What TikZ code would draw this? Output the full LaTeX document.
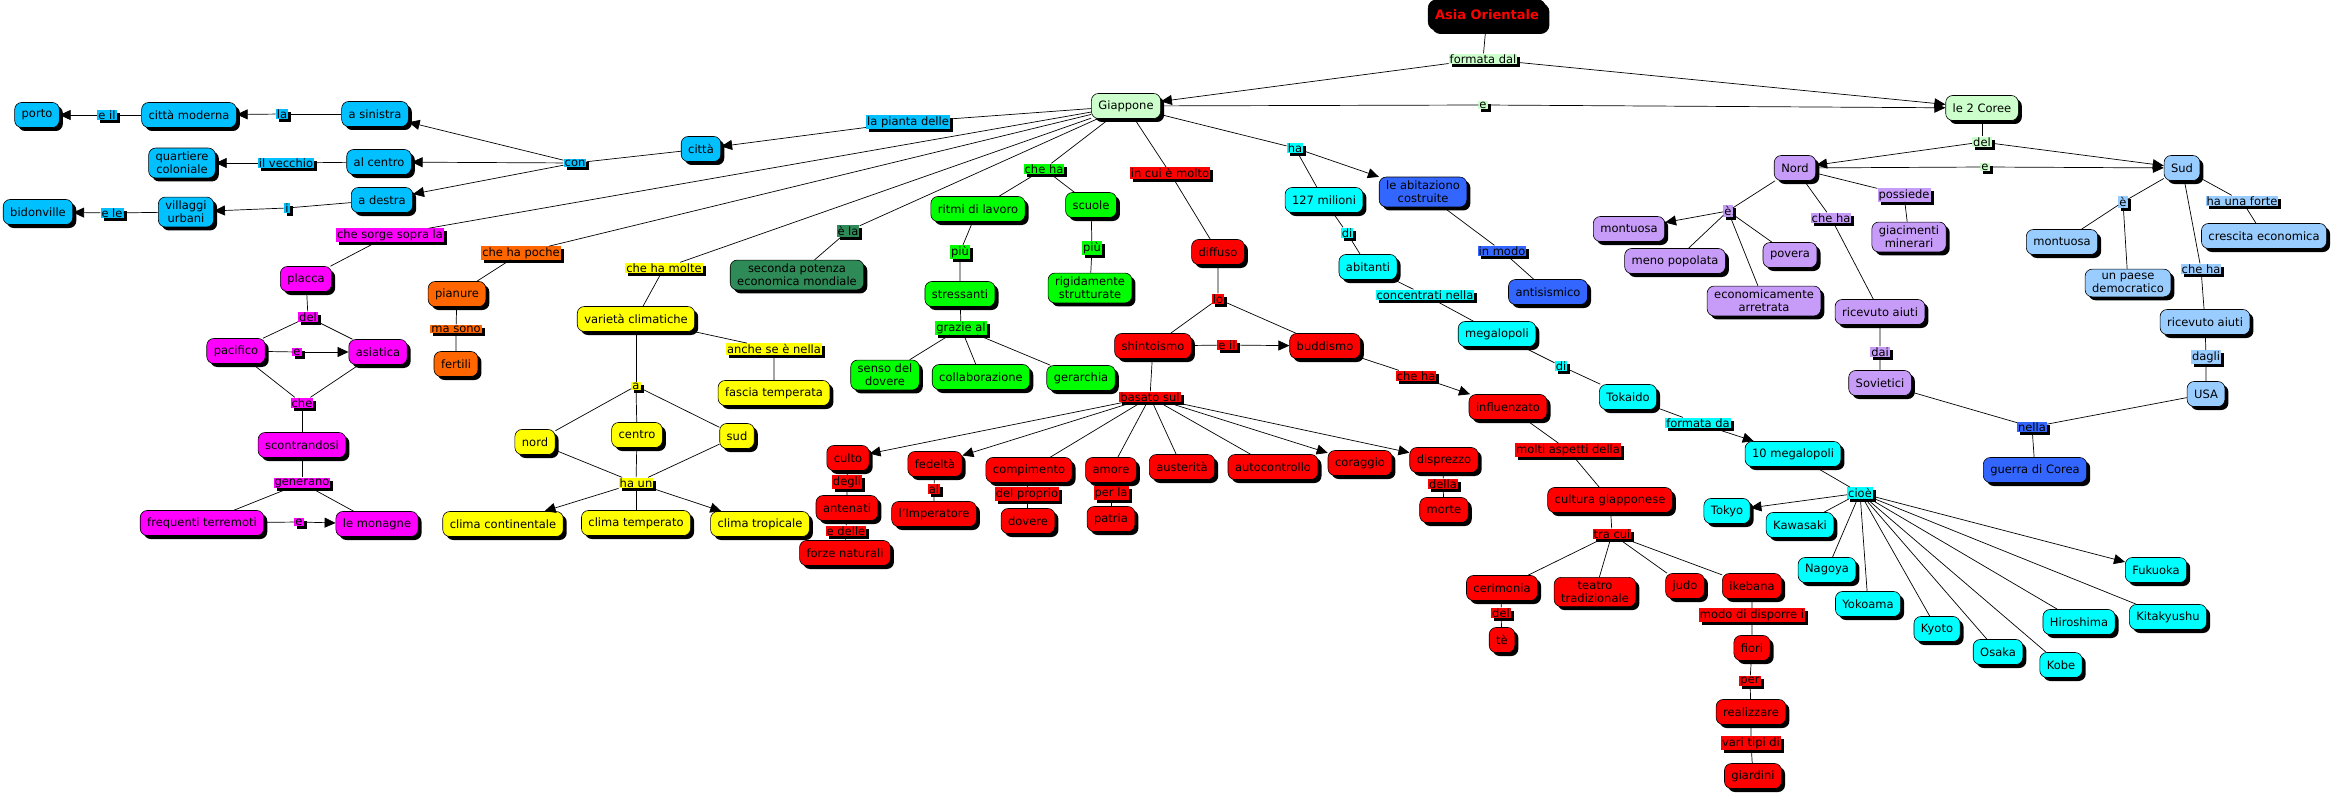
\documentclass[tikz,border=0pt]{standalone}
\usepackage{fontspec}
\setmainfont{DejaVu Sans}
\usetikzlibrary{arrows.meta,shadows}

\definecolor{verdino}{HTML}{CCFFCC}
\definecolor{celeste}{HTML}{00C0FF}
\definecolor{magenta}{HTML}{FF00FF}
\definecolor{arancio}{HTML}{FF6600}
\definecolor{giallo}{HTML}{FFFF00}
\definecolor{verdescuro}{HTML}{2E8B57}
\definecolor{verde}{HTML}{00FF00}
\definecolor{rosso}{HTML}{FF0000}
\definecolor{ciano}{HTML}{00FFFF}
\definecolor{blu}{HTML}{3366FF}
\definecolor{lilla}{HTML}{C79CF8}
\definecolor{azzurro}{HTML}{99CCFF}
\newcommand{\mapfont}{\fontsize{11.5}{13}\selectfont}

\begin{document}
\begin{tikzpicture}[x=1pt,y=-1pt,
  concept/.style={draw, fill=#1, rounded corners=7pt, line width=0.6pt, inner xsep=7pt, inner ysep=4pt,
    minimum height=25pt, align=center, font=\mapfont,
    drop shadow={shadow xshift=3.5pt,shadow yshift=-3.5pt,fill=black,opacity=1}},
  link/.style={fill=#1, inner sep=1pt, font=\mapfont,
    drop shadow={shadow xshift=3pt,shadow yshift=-3pt,fill=black,opacity=1}},
  conn/.style={line width=0.7pt},
  arr/.style={conn,-{Triangle[length=11pt,width=10pt]}}]
\useasboundingbox (0,0) rectangle (2335,797);

% radice
\node[concept=black, text=red, font=\fontsize{13}{15}\selectfont\bfseries, minimum height=31pt, rounded corners=9pt] (asia) at (1487,15) {Asia Orientale};
\node[link=verdino] (lfdal) at (1483,59) {formata dal};
\node[concept=verdino] (giap) at (1126,106) {Giappone};
\node[concept=verdino] (coree) at (1982,108) {le 2 Coree};
\node[link=verdino] (le1) at (1483,105) {e};

% Coree
\node[link=verdino] (ldel) at (1982,142) {del};
\node[link=verdino] (le2) at (1985,167) {e};
\node[concept=lilla] (nord) at (1795,168) {Nord};
\node[concept=azzurro] (sud) at (2182,168) {Sud};
\node[link=lilla] (lne) at (1728,211) {è};
\node[concept=lilla] (nmont) at (1629,229) {montuosa};
\node[concept=lilla] (nmeno) at (1675,261) {meno popolata};
\node[concept=lilla] (npov) at (1790,255) {povera};
\node[concept=lilla] (neco) at (1764,301) {economicamente\\arretrata};
\node[link=lilla] (lnche) at (1831,218) {che ha};
\node[concept=lilla] (naiuti) at (1880,312) {ricevuto aiuti};
\node[link=lilla] (lposs) at (1904,195) {possiede};
\node[concept=lilla] (ngiac) at (1909,237) {giacimenti\\minerari};
\node[link=lilla] (ldai) at (1880,352) {dai};
\node[concept=lilla] (sov) at (1880,383) {Sovietici};
\node[link=blu] (lnella) at (2032,427) {nella};
\node[concept=blu] (guerra) at (2035,470) {guerra di Corea};
\node[concept=azzurro] (usa) at (2206,394) {USA};
\node[link=azzurro] (ldagli) at (2206,357) {dagli};
\node[concept=azzurro] (saiuti) at (2205,322) {ricevuto aiuti};
\node[link=azzurro] (lsche) at (2201,269) {che ha};
\node[link=azzurro] (lse) at (2123,202) {è};
\node[concept=azzurro] (smont) at (2062,242) {montuosa};
\node[concept=azzurro] (sdemo) at (2128,283) {un paese\\democratico};
\node[link=azzurro] (lforte) at (2242,201) {ha una forte};
\node[concept=azzurro] (scresc) at (2264,236) {crescita economica};

% citta
\node[link=celeste] (lpianta) at (908,122) {la pianta delle};
\node[concept=celeste] (citta) at (701,149) {città};
\node[link=celeste] (lcon) at (575,163) {con};
\node[concept=celeste] (sin) at (375,114) {a sinistra};
\node[concept=celeste] (cen) at (379,162) {al centro};
\node[concept=celeste] (des) at (382,200) {a destra};
\node[link=celeste] (lla) at (282,114) {la};
\node[concept=celeste] (moderna) at (189,115) {città moderna};
\node[link=celeste] (leil) at (107,115) {e il};
\node[concept=celeste] (porto) at (37,115) {porto};
\node[link=celeste] (lvecchio) at (286,163) {il vecchio};
\node[concept=celeste] (quart) at (182,163) {quartiere\\coloniale};
\node[link=celeste] (li) at (287,208) {i};
\node[concept=celeste] (vill) at (186,212) {villaggi\\urbani};
\node[link=celeste] (lele) at (112,213) {e le};
\node[concept=celeste] (bidon) at (38,212) {bidonville};

% placche
\node[link=magenta] (lsorge) at (390,235) {che sorge sopra la};
\node[concept=magenta] (placca) at (306,279) {placca};
\node[link=magenta] (ldelp) at (308,317) {del};
\node[concept=magenta] (pacif) at (236,351) {pacifico};
\node[concept=magenta] (asiat) at (378,352) {asiatica};
\node[link=magenta] (lep) at (297,352) {e};
\node[link=magenta] (lchep) at (302,403) {che};
\node[concept=magenta] (scontr) at (302,445) {scontrandosi};
\node[link=magenta] (lgen) at (302,483) {generano};
\node[concept=magenta] (terrem) at (202,523) {frequenti terremoti};
\node[concept=magenta] (monagne) at (377,524) {le monagne};
\node[link=magenta] (lem) at (299,522) {e};

% pianure
\node[link=arancio] (lpoche) at (521,253) {che ha poche};
\node[concept=arancio] (pianure) at (457,294) {pianure};
\node[link=arancio] (lsono) at (456,329) {ma sono};
\node[concept=arancio] (fertili) at (456,364) {fertili};

% clima
\node[link=giallo] (lmolte) at (664,268) {che ha molte};
\node[concept=giallo] (varieta) at (636,319) {varietà climatiche};
\node[link=giallo] (lnella2) at (774,349) {anche se è nella};
\node[concept=giallo] (fascia) at (774,393) {fascia temperata};
\node[link=giallo] (la) at (636,386) {a};
\node[concept=giallo] (ynord) at (535,442) {nord};
\node[concept=giallo] (ycentro) at (637,435) {centro};
\node[concept=giallo] (ysud) at (737,436) {sud};
\node[link=giallo] (lhaun) at (636,483) {ha un};
\node[concept=giallo] (ccont) at (503,524) {clima continentale};
\node[concept=giallo] (ctemp) at (636,523) {clima temperato};
\node[concept=giallo] (ctrop) at (760,524) {clima tropicale};

% economia e lavoro
\node[link=verdescuro] (lela) at (848,231) {è la};
\node[concept=verdescuro] (potenza) at (797,275) {seconda potenza\\economica mondiale};
\node[link=verde] (lgha) at (1044,169) {che ha};
\node[concept=verde] (ritmi) at (978,209) {ritmi di lavoro};
\node[concept=verde] (scuole) at (1091,205) {scuole};
\node[link=verde] (lpiu1) at (960,252) {più};
\node[concept=verde] (stress) at (960,294) {stressanti};
\node[link=verde] (lpiu2) at (1092,248) {più};
\node[concept=verde] (rigid) at (1090,288) {rigidamente\\strutturate};
\node[link=verde] (lgrazie) at (961,328) {grazie al};
\node[concept=verde] (senso) at (885,375) {senso del\\dovere};
\node[concept=verde] (collab) at (981,377) {collaborazione};
\node[concept=verde] (gerarc) at (1081,378) {gerarchia};

% religione
\node[link=rosso] (lcui) at (1170,173) {in cui è molto};
\node[concept=rosso] (diffuso) at (1218,252) {diffuso};
\node[link=rosso] (llo) at (1218,299) {lo};
\node[concept=rosso] (shinto) at (1153,346) {shintoismo};
\node[link=rosso] (leil2) at (1227,345) {e il};
\node[concept=rosso] (budd) at (1325,346) {buddismo};
\node[link=rosso] (lbasato) at (1150,397) {basato sul};
\node[concept=rosso] (culto) at (848,458) {culto};
\node[link=rosso] (ldegli) at (847,482) {degli};
\node[concept=rosso] (antenati) at (847,508) {antenati};
\node[link=rosso] (ledelle) at (846,531) {e delle};
\node[concept=rosso] (forze) at (845,553) {forze naturali};
\node[concept=rosso] (fedelta) at (935,464) {fedeltà};
\node[link=rosso] (lal) at (934,489) {al};
\node[concept=rosso] (imper) at (934,514) {l'Imperatore};
\node[concept=rosso] (compim) at (1029,470) {compimento};
\node[link=rosso] (lproprio) at (1027,494) {del proprio};
\node[concept=rosso] (dovere) at (1028,521) {dovere};
\node[concept=rosso] (amore) at (1111,470) {amore};
\node[link=rosso] (lperla) at (1111,493) {per la};
\node[concept=rosso] (patria) at (1111,519) {patria};
\node[concept=rosso] (auster) at (1182,467) {austerità};
\node[concept=rosso] (autoc) at (1273,467) {autocontrollo};
\node[concept=rosso] (corag) at (1360,463) {coraggio};
\node[concept=rosso] (dispr) at (1444,460) {disprezzo};
\node[link=rosso] (ldella) at (1443,484) {della};
\node[concept=rosso] (morte) at (1444,510) {morte};
\node[link=rosso] (lrche) at (1416,376) {che ha};
\node[concept=rosso] (influ) at (1508,407) {influenzato};
\node[link=rosso] (lmolti) at (1568,450) {molti aspetti della};
\node[concept=rosso] (cultura) at (1610,500) {cultura giapponese};
\node[link=rosso] (ltra) at (1612,534) {tra cui};
\node[concept=rosso] (cerim) at (1502,588) {cerimonia};
\node[link=rosso] (ldelte) at (1501,613) {del};
\node[concept=rosso] (te) at (1502,640) {tè};
\node[concept=rosso] (teatro) at (1595,592) {teatro\\tradizionale};
\node[concept=rosso] (judo) at (1685,586) {judo};
\node[concept=rosso] (ikeb) at (1752,586) {ikebana};
\node[link=rosso] (lmodo) at (1752,615) {modo di disporre i};
\node[concept=rosso] (fiori) at (1752,648) {fiori};
\node[link=rosso] (lper) at (1750,681) {per};
\node[concept=rosso] (realiz) at (1751,712) {realizzare};
\node[link=rosso] (lvari) at (1751,743) {vari tipi di};
\node[concept=rosso] (giardini) at (1753,776) {giardini};

% popolazione
\node[link=ciano] (lha) at (1295,148) {ha};
\node[concept=ciano] (milioni) at (1324,200) {127 milioni};
\node[concept=blu] (abitaz) at (1423,192) {le abitaziono\\costruite};
\node[link=ciano] (ldi) at (1347,233) {di};
\node[concept=ciano] (abitanti) at (1368,267) {abitanti};
\node[link=ciano] (lconc) at (1425,295) {concentrati nella};
\node[concept=ciano] (megal) at (1497,334) {megalopoli};
\node[link=blu] (lmodo2) at (1502,251) {in modo};
\node[concept=blu] (antisis) at (1548,292) {antisismico};
\node[link=ciano] (ldi2) at (1561,366) {di};
\node[concept=ciano] (tokaido) at (1628,397) {Tokaido};
\node[link=ciano] (lform) at (1698,423) {formata da};
\node[concept=ciano] (dieci) at (1793,454) {10 megalopoli};
\node[link=ciano] (lcioe) at (1860,493) {cioè};
\node[concept=ciano] (tokyo) at (1727,511) {Tokyo};
\node[concept=ciano] (kawa) at (1800,525) {Kawasaki};
\node[concept=ciano] (nagoya) at (1827,570) {Nagoya};
\node[concept=ciano] (yoko) at (1868,604) {Yokoama};
\node[concept=ciano] (kyoto) at (1937,629) {Kyoto};
\node[concept=ciano] (osaka) at (1998,652) {Osaka};
\node[concept=ciano] (kobe) at (2061,665) {Kobe};
\node[concept=ciano] (hiro) at (2079,622) {Hiroshima};
\node[concept=ciano] (kita) at (2168,617) {Kitakyushu};
\node[concept=ciano] (fuku) at (2156,570) {Fukuoka};

% collegamenti
\draw[conn] (asia) -- (lfdal);
\draw[arr] (lfdal) -- (giap);
\draw[arr] (lfdal) -- (coree);
\draw[conn] (giap) -- (le1);
\draw[arr] (le1) -- (coree);

\draw[conn] (coree) -- (ldel);
\draw[arr] (ldel) -- (nord);
\draw[arr] (ldel) -- (sud);
\draw[conn] (nord) -- (le2);
\draw[arr] (le2) -- (sud);
\draw[conn] (nord) -- (lne);
\draw[arr] (lne) -- (nmont);
\foreach \n in {nmeno,npov,neco}
  \draw[conn] (lne) -- (\n);
\draw[conn] (nord) -- (lnche) -- (naiuti) -- (ldai) -- (sov) -- (lnella) -- (usa);
\draw[conn] (lnella) -- (guerra);
\draw[conn] (nord) -- (lposs) -- (ngiac);
\draw[conn] (sud) -- (lse) -- (smont);
\draw[conn] (lse) -- (sdemo);
\draw[conn] (sud) -- (lforte) -- (scresc);
\draw[conn] (sud) -- (lsche) -- (saiuti) -- (ldagli) -- (usa);

\draw[conn] (giap) -- (lpianta);
\draw[arr] (lpianta) -- (citta);
\draw[conn] (citta) -- (lcon);
\foreach \n in {sin,cen,des}
  \draw[arr] (lcon) -- (\n);
\draw[conn] (sin) -- (lla);
\draw[arr] (lla) -- (moderna);
\draw[conn] (moderna) -- (leil);
\draw[arr] (leil) -- (porto);
\draw[conn] (cen) -- (lvecchio);
\draw[arr] (lvecchio) -- (quart);
\draw[conn] (des) -- (li);
\draw[arr] (li) -- (vill);
\draw[conn] (vill) -- (lele);
\draw[arr] (lele) -- (bidon);

\draw[conn] (giap) -- (lsorge) -- (placca) -- (ldelp);
\draw[conn] (ldelp) -- (pacif);
\draw[conn] (ldelp) -- (asiat);
\draw[conn] (pacif) -- (lep);
\draw[arr] (lep) -- (asiat);
\draw[conn] (pacif) -- (lchep) -- (asiat);
\draw[conn] (lchep) -- (scontr) -- (lgen);
\draw[conn] (lgen) -- (terrem);
\draw[conn] (lgen) -- (monagne);
\draw[conn] (terrem) -- (lem);
\draw[arr] (lem) -- (monagne);

\draw[conn] (giap) -- (lpoche) -- (pianure) -- (lsono) -- (fertili);

\draw[conn] (giap) -- (lmolte) -- (varieta) -- (lnella2) -- (fascia);
\draw[conn] (varieta) -- (la);
\foreach \n in {ynord,ycentro,ysud}
  \draw[conn] (la) -- (\n) -- (lhaun);
\draw[arr] (lhaun) -- (ccont);
\draw[conn] (lhaun) -- (ctemp);
\draw[arr] (lhaun) -- (ctrop);

\draw[conn] (giap) -- (lela) -- (potenza);
\draw[conn] (giap) -- (lgha);
\draw[conn] (lgha) -- (ritmi) -- (lpiu1) -- (stress) -- (lgrazie);
\draw[conn] (lgha) -- (scuole) -- (lpiu2) -- (rigid);
\foreach \n in {senso,collab,gerarc}
  \draw[conn] (lgrazie) -- (\n);

\draw[conn] (giap) -- (lcui) -- (diffuso) -- (llo);
\draw[conn] (llo) -- (shinto);
\draw[conn] (llo) -- (budd);
\draw[conn] (shinto) -- (leil2);
\draw[arr] (leil2) -- (budd);
\draw[conn] (shinto) -- (lbasato);
\foreach \n in {culto,fedelta,corag,dispr}
  \draw[arr] (lbasato) -- (\n);
\foreach \n in {compim,amore,auster,autoc}
  \draw[conn] (lbasato) -- (\n);
\draw[conn] (culto) -- (ldegli) -- (antenati) -- (ledelle) -- (forze);
\draw[conn] (fedelta) -- (lal) -- (imper);
\draw[conn] (compim) -- (lproprio) -- (dovere);
\draw[conn] (amore) -- (lperla) -- (patria);
\draw[conn] (dispr) -- (ldella) -- (morte);
\draw[conn] (budd) -- (lrche);
\draw[arr] (lrche) -- (influ);
\draw[conn] (influ) -- (lmolti) -- (cultura) -- (ltra);
\foreach \n in {cerim,teatro,judo,ikeb}
  \draw[conn] (ltra) -- (\n);
\draw[conn] (cerim) -- (ldelte) -- (te);
\draw[conn] (ikeb) -- (lmodo) -- (fiori) -- (lper) -- (realiz) -- (lvari) -- (giardini);

\draw[conn] (giap) -- (lha);
\draw[arr] (lha) -- (abitaz);
\draw[conn] (lha) -- (milioni) -- (ldi) -- (abitanti) -- (lconc) -- (megal) -- (ldi2) -- (tokaido) -- (lform);
\draw[arr] (lform) -- (dieci);
\draw[conn] (abitaz) -- (lmodo2) -- (antisis);
\draw[conn] (dieci) -- (lcioe);
\draw[arr] (lcioe) -- (tokyo);
\draw[arr] (lcioe) -- (fuku);
\foreach \n in {kawa,nagoya,yoko,kyoto,osaka,kobe,hiro,kita}
  \draw[conn] (lcioe) -- (\n);
\end{tikzpicture}
\end{document}
